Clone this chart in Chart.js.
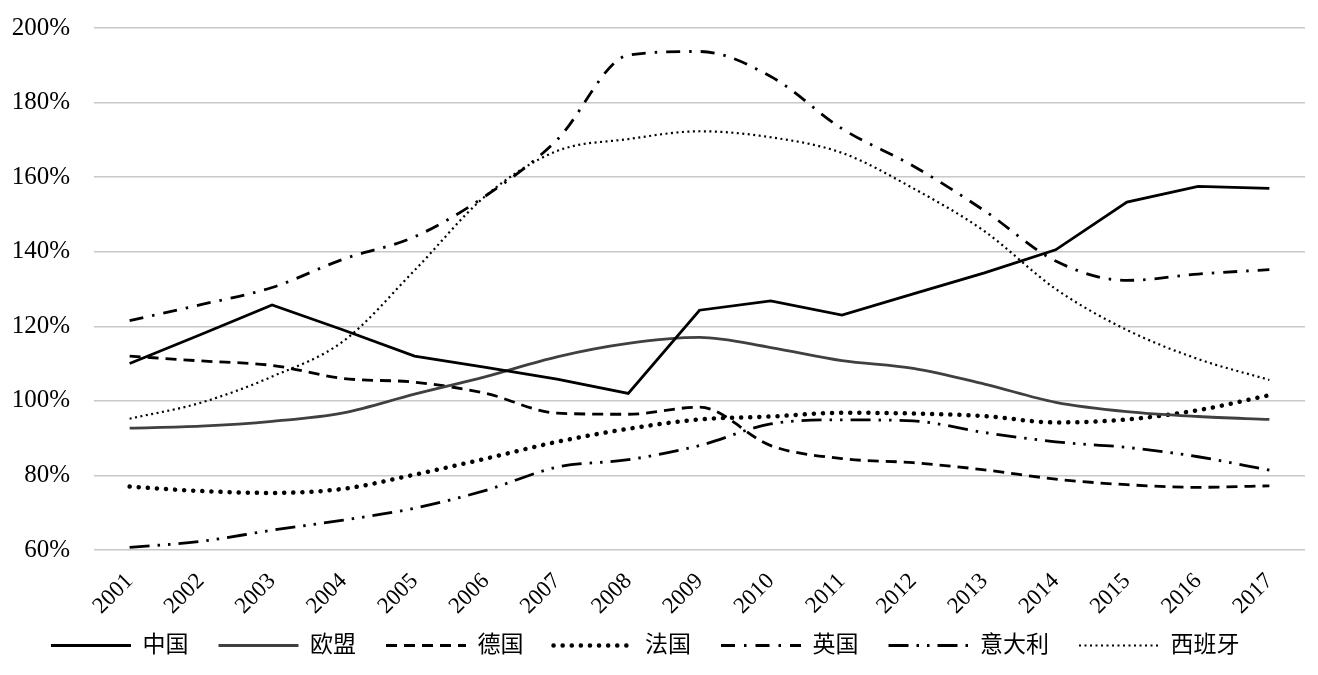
<!DOCTYPE html>
<html>
<head>
<meta charset="utf-8">
<script src="https://cdn.jsdelivr.net/npm/chart.js@4"></script>
<style>
  html, body { margin: 0; padding: 0; background: #fff; }
  #wrap { width: 1318px; height: 675px; }
</style>
</head>
<body>
<div id="wrap"><canvas id="chart" width="1318" height="675"></canvas></div>
<script>
const years = ["2001","2002","2003","2004","2005","2006","2007","2008","2009","2010","2011","2012","2013","2014","2015","2016","2017"];

const china   = [110, 117.8, 125.7, 119, 112, 109, 105.8, 102, 124.3, 126.8, 123, 128.7, 134.3, 140.5, 153.3, 157.5, 157];
const eu      = [92.7, 93.2, 94.5, 96.8, 101.8, 106.5, 111.8, 115.4, 117, 114.3, 110.8, 108.7, 104.5, 99.6, 97.1, 95.8, 95];
const germany = [112, 110.7, 109.5, 106, 105, 102, 96.7, 96.4, 98.3, 88, 84.5, 83.4, 81.5, 79, 77.5, 76.8, 77.2];
const france  = [77, 75.8, 75.3, 76.4, 80.2, 84.5, 89, 92.5, 95, 95.8, 96.8, 96.6, 95.9, 94.2, 95, 97.5, 101.5];
const uk      = [121.5, 125.8, 130.4, 138, 144, 155, 170, 192.7, 193.7, 187, 173, 163, 151, 137.5, 132.3, 134, 135.2];
const italy   = [60.7, 62.3, 65.3, 68, 71.2, 76, 82.2, 84.2, 88, 93.8, 94.9, 94.6, 91.5, 89, 87.5, 85, 81.4];
const spain   = [95.2, 99.5, 106.5, 116, 135, 155, 167, 170.2, 172.3, 170.7, 166.5, 157, 145.5, 130, 119, 111.2, 105.6];

const FONT = '"Liberation Serif", "Noto Sans CJK SC", serif';
const LEGEND_TRIM = 26;

const line = (label, data, color, width, dash, cap, smooth) => ({
  label,
  data,
  borderColor: color,
  backgroundColor: color,
  borderWidth: width,
  borderDash: dash,
  borderCapStyle: cap,
  cubicInterpolationMode: smooth ? "monotone" : "default",
  tension: smooth ? 0.4 : 0,
  pointRadius: 0,
  pointHoverRadius: 0,
  fill: false
});

// legend row: less vertical room, starts near the left edge like the original
const legendTweak = {
  id: "legendTweak",
  afterInit(chart) {
    const legend = chart.legend;
    const fit = legend.fit.bind(legend);
    legend.fit = () => {
      fit();
      legend.height -= LEGEND_TRIM;
    };
  },
  afterLayout(chart) {
    chart.legend.left = 21;
    chart.legend.top -= LEGEND_TRIM;
  }
};

new Chart(document.getElementById("chart"), {
  type: "line",
  data: {
    labels: years,
    datasets: [
      line("中国", china, "#000", 2.8, [], "butt", false),
      line("欧盟", eu, "#404040", 2.8, [], "butt", true),
      line("德国", germany, "#000", 2.8, [11, 7], "butt", true),
      line("法国", france, "#000", 4.5, [0.1, 9], "round", true),
      line("英国", uk, "#000", 2.8, [14, 9, 2.5, 9], "butt", true),
      line("意大利", italy, "#000", 2.8, [20, 8, 2.5, 8, 2.5, 8], "butt", true),
      line("西班牙", spain, "#000", 2.2, [2, 3.5], "butt", true)
    ]
  },
  plugins: [legendTweak],
  options: {
    responsive: false,
    animation: false,
    layout: { padding: { top: 0, right: 13, left: 12, bottom: 8 } },
    plugins: {
      tooltip: { enabled: false },
      legend: {
        position: "bottom",
        align: "start",
        labels: {
          usePointStyle: true,
          pointStyleWidth: 80,
          boxWidth: 80,
          boxHeight: 12,
          padding: 30,
          color: "#000",
          font: { family: FONT, size: 23 },
          generateLabels(chart) {
            return chart.data.datasets.map((ds, i) => ({
              text: ds.label,
              datasetIndex: i,
              pointStyle: "line",
              strokeStyle: ds.borderColor,
              fillStyle: ds.borderColor,
              lineWidth: ds.borderWidth,
              lineDash: ds.borderDash,
              lineCap: ds.borderCapStyle,
              fontColor: "#000",
              hidden: false
            }));
          }
        }
      }
    },
    scales: {
      x: {
        offset: true,
        grid: { display: false },
        border: { display: false },
        afterFit(scale) {
          scale.paddingLeft = 0;
        },
        ticks: {
          color: "#000",
          maxRotation: 45,
          minRotation: 45,
          padding: 10,
          font: { family: FONT, size: 23 }
        }
      },
      y: {
        min: 60,
        max: 200,
        border: { display: false },
        grid: { color: "#c8c8c8", lineWidth: 1.5, drawTicks: false },
        afterFit(scale) {
          scale.paddingTop = 28;
          scale.width = 82;
        },
        ticks: {
          stepSize: 20,
          color: "#000",
          padding: 24,
          font: { family: FONT, size: 25 },
          callback: (v) => v + "%"
        }
      }
    }
  }
});
</script>
</body>
</html>
